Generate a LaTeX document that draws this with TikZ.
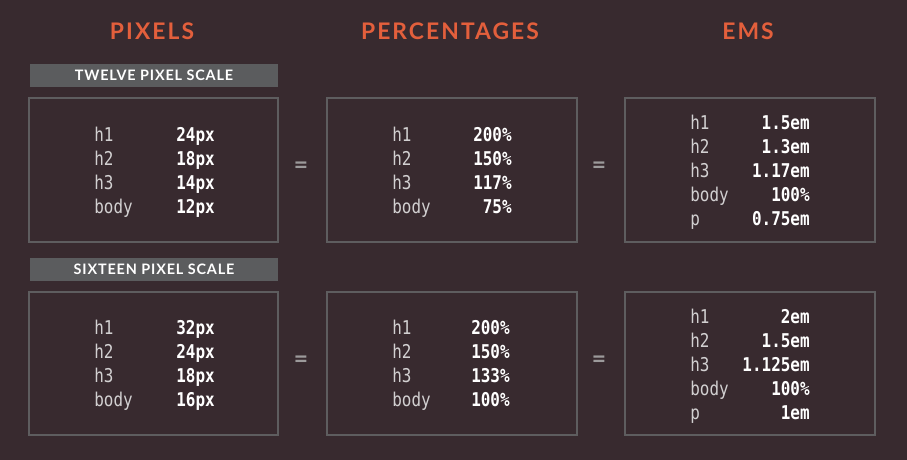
\documentclass[tikz,border=0pt]{standalone}
\usepackage{fontspec}
\usepackage{xcolor}
\usepackage{tikz}
\setmainfont{Lato}
\newfontfamily\headfont[LetterSpace=9]{Lato}
\newfontfamily\barfont[LetterSpace=6]{Lato}
\newfontfamily\codefont[FakeStretch=0.84]{DejaVu Sans Mono}
\definecolor{bgplum}{HTML}{382A2F}
\definecolor{headorange}{HTML}{E35F3C}
\definecolor{bargray}{HTML}{5B5C5E}
\definecolor{framegray}{HTML}{5E5D5F}
\definecolor{keygray}{HTML}{D2D0D1}
\definecolor{eqgray}{HTML}{9C9A9B}

\tikzset{
  head/.style={text=headorange, font=\headfont\fontsize{13}{14}\selectfont\bfseries},
  scalebar/.style={fill=bargray, text=white, minimum width=4.96cm, minimum height=0.46cm,
    inner sep=0pt, font=\barfont\fontsize{8.2}{9}\selectfont\bfseries},
  frame/.style={draw=framegray, line width=1.6pt},
  key/.style={anchor=base west, inner sep=0pt, text=keygray, font=\codefont\fontsize{10.8}{12}\selectfont},
  val/.style={key, text=white, font=\codefont\fontsize{10.8}{12}\selectfont\bfseries},
  valr/.style={val, anchor=base east},
  eq/.style={text=eqgray, font=\fontsize{14}{14}\selectfont\bfseries}
}

\begin{document}
\begin{tikzpicture}[x=0.02cm, y=-0.02cm]
    \fill[bgplum] (0,0) rectangle (907,460);

    % column heads
    \coordinate (Pix) at (152, 31);
    \coordinate (Pct) at (450, 31);
    \coordinate (Ems) at (748, 31);
    \node[head] (pixhead) at (Pix) {PIXELS};
    \node[head] (pcthead) at (Pct) {PERCENTAGES};
    \node[head] (emshead) at (Ems) {EMS};

    % scale bars
    \node[scalebar] (twelve) at (154, 75.5) {TWELVE PIXEL SCALE};
    \node[scalebar] (sixteen) at (154, 269.5) {SIXTEEN PIXEL SCALE};

    % frames
    \draw[frame] (29, 98) rectangle (278, 242);
    \draw[frame] (327, 98) rectangle (577, 242);
    \draw[frame] (625, 98) rectangle (875, 242);
    \draw[frame] (29, 292) rectangle (278, 435);
    \draw[frame] (327, 292) rectangle (577, 435);
    \draw[frame] (625, 292) rectangle (875, 435);

    \node[eq] (eqa) at (301, 168) {=};
    \node[eq] (eqb) at (599, 168) {=};
    \node[eq] (eqc) at (301, 362) {=};
    \node[eq] (eqd) at (599, 362) {=};

    % twelve pixel scale
    \node[key] (ta1) at (94, 141) {h1};
    \node[key] (ta2) at (94, 165) {h2};
    \node[key] (ta3) at (94, 189) {h3};
    \node[key] (ta4) at (94, 213) {body};
    \node[val] (tav1) at (176, 141) {24px};
    \node[val] (tav2) at (176, 165) {18px};
    \node[val] (tav3) at (176, 189) {14px};
    \node[val] (tav4) at (176, 213) {12px};

    \node[key] (tb1) at (392, 141) {h1};
    \node[key] (tb2) at (392, 165) {h2};
    \node[key] (tb3) at (392, 189) {h3};
    \node[key] (tb4) at (392, 213) {body};
    \node[valr] (tbv1) at (512, 141) {200\%};
    \node[valr] (tbv2) at (512, 165) {150\%};
    \node[valr] (tbv3) at (512, 189) {117\%};
    \node[valr] (tbv4) at (512, 213) {75\%};

    \node[key] (tc1) at (690, 129) {h1};
    \node[key] (tc2) at (690, 153) {h2};
    \node[key] (tc3) at (690, 177) {h3};
    \node[key] (tc4) at (690, 201) {body};
    \node[key] (tc5) at (690, 225) {p};
    \node[valr] (tcv1) at (810, 129) {1.5em};
    \node[valr] (tcv2) at (810, 153) {1.3em};
    \node[valr] (tcv3) at (810, 177) {1.17em};
    \node[valr] (tcv4) at (810, 201) {100\%};
    \node[valr] (tcv5) at (810, 225) {0.75em};

    % sixteen pixel scale
    \node[key] (sa1) at (94, 334) {h1};
    \node[key] (sa2) at (94, 358) {h2};
    \node[key] (sa3) at (94, 382) {h3};
    \node[key] (sa4) at (94, 406) {body};
    \node[val] (sav1) at (176, 334) {32px};
    \node[val] (sav2) at (176, 358) {24px};
    \node[val] (sav3) at (176, 382) {18px};
    \node[val] (sav4) at (176, 406) {16px};

    \node[key] (sb1) at (392, 334) {h1};
    \node[key] (sb2) at (392, 358) {h2};
    \node[key] (sb3) at (392, 382) {h3};
    \node[key] (sb4) at (392, 406) {body};
    \node[valr] (sbv1) at (510, 334) {200\%};
    \node[valr] (sbv2) at (510, 358) {150\%};
    \node[valr] (sbv3) at (510, 382) {133\%};
    \node[valr] (sbv4) at (510, 406) {100\%};

    \node[key] (sc1) at (690, 323) {h1};
    \node[key] (sc2) at (690, 347) {h2};
    \node[key] (sc3) at (690, 371) {h3};
    \node[key] (sc4) at (690, 395) {body};
    \node[key] (sc5) at (690, 419) {p};
    \node[valr] (scv1) at (810, 323) {2em};
    \node[valr] (scv2) at (810, 347) {1.5em};
    \node[valr] (scv3) at (810, 371) {1.125em};
    \node[valr] (scv4) at (810, 395) {100\%};
    \node[valr] (scv5) at (810, 419) {1em};
\end{tikzpicture}
\end{document}
